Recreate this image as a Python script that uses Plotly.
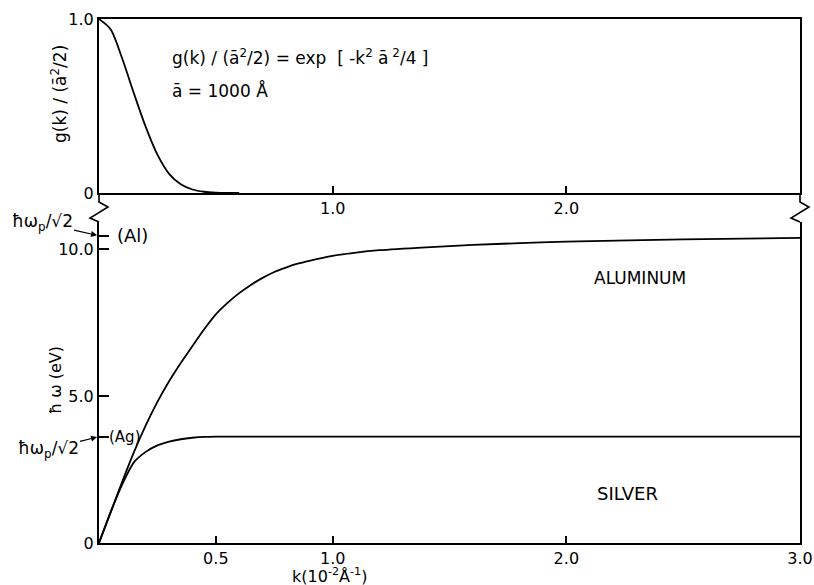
import plotly.graph_objects as go

FONT = "DejaVu Sans"

# ---- data ----
k_g = [0, 0.05, 0.1, 0.15, 0.2, 0.25, 0.3, 0.35, 0.4, 0.45, 0.5, 0.55, 0.6]
g_vals = [1.0, 0.94, 0.77, 0.57, 0.38, 0.22, 0.11, 0.05, 0.02, 0.007, 0.002, 0.0, 0.0]

k_al = [0, 0.05, 0.1, 0.15, 0.2, 0.25, 0.3, 0.35, 0.4, 0.45, 0.5, 0.55, 0.6, 0.65,
        0.7, 0.75, 0.8, 0.85, 0.9, 1.0, 1.1, 1.2, 1.4, 1.6, 1.8, 2.0, 2.5, 3.0]
w_al = [0, 1.05, 2.1, 3.1, 4.0, 4.8, 5.5, 6.12, 6.7, 7.27, 7.78, 8.17, 8.5, 8.78,
        9.02, 9.22, 9.37, 9.5, 9.6, 9.77, 9.88, 9.96, 10.06, 10.14, 10.2, 10.25, 10.33, 10.38]

k_ag = [0, 0.05, 0.1, 0.15, 0.2, 0.25, 0.3, 0.35, 0.4, 0.45, 0.5, 0.6, 0.8, 1.0, 2.0, 3.0]
w_ag = [0, 1.05, 2.0, 2.75, 3.1, 3.32, 3.45, 3.53, 3.58, 3.61, 3.62, 3.62, 3.62, 3.62, 3.62, 3.62]

AL_SURF = 10.45   # hbar omega_p / sqrt2 (Al)
AG_SURF = 3.62    # hbar omega_p / sqrt2 (Ag)

top_y_ticks = [0, 1]
top_y_text = ["0", "1.0"]
top_x_ticks = [1, 2]
top_x_text = ["1.0", "2.0"]
bot_x_ticks = [0.5, 1, 2, 3]
bot_x_text = ["0.5", "1.0", "2.0", "3.0"]
bot_y_ticks = [0, AG_SURF, 5, 10, AL_SURF]
bot_y_text = ["0", "", "5.0", "10.0", ""]

fig = go.Figure()
line = dict(color="black", width=1.8, shape="spline", smoothing=0.8)
fig.add_trace(go.Scatter(x=k_g, y=g_vals, mode="lines", line=line, xaxis="x", yaxis="y",
                         showlegend=False, hoverinfo="skip"))
fig.add_trace(go.Scatter(x=k_al, y=w_al, mode="lines", line=line, xaxis="x2", yaxis="y2",
                         showlegend=False, hoverinfo="skip"))
fig.add_trace(go.Scatter(x=k_ag, y=w_ag, mode="lines", line=line, xaxis="x2", yaxis="y2",
                         showlegend=False, hoverinfo="skip"))

ax_common = dict(showgrid=False, zeroline=False, showline=True, linecolor="black",
                 linewidth=2, color="black", automargin=False,
                 tickfont=dict(family=FONT, size=16, color="black"))

TOP_DOM = [0.668, 1]
BOT_DOM = [0, 0.6126]

fig.update_layout(
    width=814, height=585,
    margin=dict(l=99, r=14, t=19, b=42, autoexpand=False),
    paper_bgcolor="white", plot_bgcolor="white",
    font=dict(family=FONT, size=16, color="black"),
    xaxis=dict(**ax_common, domain=[0, 1], anchor="y", range=[0, 3], mirror=True,
               tickmode="array", tickvals=top_x_ticks, ticktext=top_x_text,
               ticks="inside", ticklen=7, tickwidth=1.5, tickcolor="black"),
    yaxis=dict(**ax_common, domain=TOP_DOM, anchor="x", range=[0, 1], mirror=True,
               tickmode="array", tickvals=top_y_ticks, ticktext=top_y_text, ticks=""),
    xaxis2=dict(**ax_common, domain=[0, 1], anchor="y2", range=[0, 3], mirror=False,
                tickmode="array", tickvals=bot_x_ticks, ticktext=bot_x_text,
                ticks="inside", ticklen=7, tickwidth=1.5, tickcolor="black"),
    yaxis2=dict(**ax_common, domain=BOT_DOM, anchor="x2", range=[0, 10.92], mirror=True,
                tickmode="array", tickvals=bot_y_ticks, ticktext=bot_y_text,
                ticks="inside", ticklen=10, tickwidth=1.5, tickcolor="black"),
)

# axis breaks (zig-zags) between the two panels (paper coordinates)
def zig(x0):
    pts = [(0, TOP_DOM[0]), (0, 0.6507), (0.0128, 0.6412), (-0.0128, 0.6202), (0, BOT_DOM[1])]
    return "M " + " L ".join(f"{x0 + px},{py}" for px, py in pts)

for x0 in (0, 1):
    fig.add_shape(type="path", path=zig(x0), xref="paper", yref="paper",
                  line=dict(color="black", width=1.6))

ann = []
ann.append(dict(text="g(k) / (ā<sup>2</sup>/2) = exp  [ -k<sup>2</sup> ā<sup> 2</sup>/4 ]",
                xref="paper", yref="paper", x=0.1013, y=0.927, xanchor="left", yanchor="middle",
                showarrow=False, font=dict(size=17)))
ann.append(dict(text="ā = 1000 Å", xref="paper", yref="paper", x=0.1013, y=0.864,
                xanchor="left", yanchor="middle", showarrow=False, font=dict(size=17)))
ann.append(dict(text="g(k) / (ā<sup>2</sup>/2)", xref="paper", yref="paper", x=-0.057, y=0.857,
                textangle=-90, xanchor="center", yanchor="middle", showarrow=False,
                font=dict(size=17)))
ann.append(dict(text="ħ ω (eV)", xref="paper", yref="paper", x=-0.0628, y=0.311,
                textangle=-90, xanchor="center", yanchor="middle", showarrow=False,
                font=dict(size=16)))
ann.append(dict(text="k(10<sup>-2</sup>Å<sup>-1</sup>)", xref="paper", yref="paper",
                x=0.3295, y=-0.062, xanchor="center", yanchor="middle", showarrow=False,
                font=dict(size=16)))
ann.append(dict(text="ALUMINUM", xref="x2", yref="y2", x=2.315, y=9.01, showarrow=False,
                font=dict(size=17)))
ann.append(dict(text="SILVER", xref="x2", yref="y2", x=2.26, y=1.70, showarrow=False,
                font=dict(size=18)))
ann.append(dict(text="(Al)", xref="x2", yref="y2", x=0.068, y=AL_SURF, xanchor="left",
                showarrow=False, font=dict(size=18)))
ann.append(dict(text="(Ag)", xref="x2", yref="y2", x=0.034, y=AG_SURF, xanchor="left",
                showarrow=False, font=dict(size=15)))
ann.append(dict(text="ħω<sub>p</sub>/√2", xref="x2", yref="y2", x=0, y=AL_SURF,
                ax=-57, ay=-13, showarrow=True, arrowhead=2, arrowsize=1, arrowwidth=1.2,
                standoff=2, arrowcolor="black", font=dict(size=17)))
ann.append(dict(text="ħω<sub>p</sub>/√2", xref="x2", yref="y2", x=0, y=AG_SURF,
                ax=-51, ay=13, showarrow=True, arrowhead=2, arrowsize=1, arrowwidth=1.2,
                standoff=2, arrowcolor="black", font=dict(size=17)))
fig.update_layout(annotations=ann)

fig.write_html("out.html",
               config={"displayModeBar": False},
               post_script="document.body.style.margin='0px';document.body.style.overflow='hidden';")
